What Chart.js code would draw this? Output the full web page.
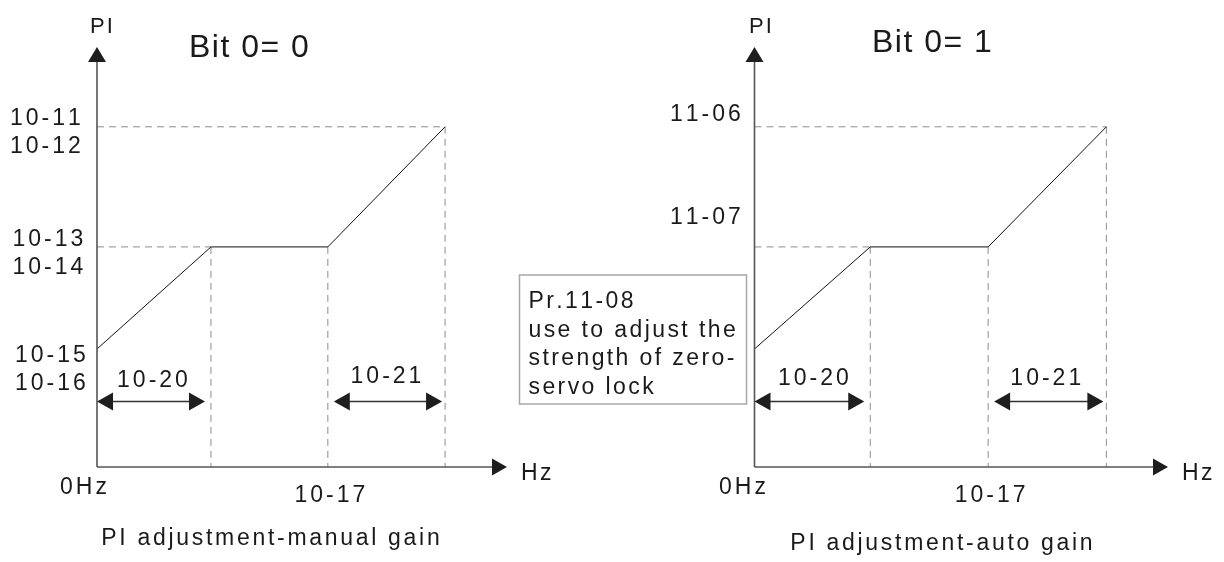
<!DOCTYPE html>
<html>
<head>
<meta charset="utf-8">
<script src="https://cdn.jsdelivr.net/npm/chart.js@4.4.0/dist/chart.umd.min.js"></script>
<style>
  html, body { margin: 0; padding: 0; background: #ffffff; }
  #wrap { position: relative; width: 1224px; height: 562px; overflow: hidden; }
  #wrap canvas { position: absolute; left: 0; top: 0; }
</style>
</head>
<body>
<div id="wrap">
  <canvas id="manualGain" width="1224" height="562"></canvas>
  <canvas id="autoGain" width="1224" height="562"></canvas>
</div>
<script>
// ---- data: frequency breakpoints (% of axis) and PI levels (% of axis) ----
const freqManual = [0, 27.8, 56.3, 84.9];
const piManual   = [28.1, 52.4, 52.4, 81.0];
const freqAuto   = [0, 28.0, 56.5, 85.1];
const piAuto     = [28.1, 52.4, 52.4, 81.0];

// tick-style labels for the PI levels (start, plateau, top)
const levelLabelsManual = [['10-15', '10-16'], ['10-13', '10-14'], ['10-11', '10-12']];
const levelLabelsAuto   = [null, ['11-07'], ['11-06']];
const zeroLabel   = '0Hz';
const freqLabel   = '10-17';
const spanLabels  = ['10-20', '10-21'];
const axisNames   = ['PI', 'Hz'];
const titles      = ['Bit 0= 0', 'Bit 0= 1'];
const captions    = ['PI adjustment-manual gain', 'PI adjustment-auto gain'];
const noteLines   = ['Pr.11-08', 'use to adjust the', 'strength of zero-', 'servo lock'];

const FONT = "'Liberation Sans', Arial, Helvetica, sans-serif";
const INK = '#1a1a1a';

// draw text with extra letter spacing
function spaced(ctx, text, x, y, gap, align) {
  const ws = [];
  let w = 0;
  for (const ch of text) { const m = ctx.measureText(ch).width; ws.push(m); w += m; }
  w += gap * (ws.length - 1);
  let cx = align === 'right' ? x - w : align === 'center' ? x - w / 2 : x;
  let i = 0;
  for (const ch of text) { ctx.fillText(ch, cx, y); cx += ws[i++] + gap; }
}

function arrowHead(ctx, tx, ty, dir, len, half) {
  ctx.beginPath();
  if (dir === 'up')    { ctx.moveTo(tx, ty); ctx.lineTo(tx - half, ty + len); ctx.lineTo(tx + half, ty + len); }
  if (dir === 'right') { ctx.moveTo(tx, ty); ctx.lineTo(tx - len, ty - half); ctx.lineTo(tx - len, ty + half); }
  if (dir === 'left')  { ctx.moveTo(tx, ty); ctx.lineTo(tx + len, ty - half); ctx.lineTo(tx + len, ty + half); }
  ctx.closePath();
  ctx.fill();
}

function dashed(xs, ys) {
  return {
    data: xs.map((x, i) => ({ x: x, y: ys[i] })),
    borderColor: '#8c8c8c', borderWidth: 1, borderDash: [7, 5],
    pointRadius: 0, fill: false, tension: 0, clip: false, order: 2
  };
}

function buildDatasets(freq, pi) {
  return [
    {
      data: freq.map((x, i) => ({ x: x, y: pi[i] })),
      borderColor: '#111111', borderWidth: 1, pointRadius: 0,
      fill: false, tension: 0, clip: false, order: 1
    },
    dashed([0, freq[3]], [pi[3], pi[3]]),
    dashed([freq[3], freq[3]], [pi[3], 0]),
    dashed([0, freq[1]], [pi[1], pi[1]]),
    dashed([freq[1], freq[1]], [pi[1], 0]),
    dashed([freq[2], freq[2]], [pi[2], 0])
  ];
}

// decoration plugin: axes with arrowheads, span arrows, labels
function diagramPlugin(freq, pi, levelLabels, look) {
  return {
    id: 'diagram',
    afterDatasetsDraw(chart) {
      const ctx = chart.ctx;
      const xs = chart.scales.x, ys = chart.scales.y;
      const L = xs.getPixelForValue(0), R = xs.getPixelForValue(100);
      const B = ys.getPixelForValue(0), T = ys.getPixelForValue(100);
      ctx.save();

      // axes
      ctx.strokeStyle = '#555555';
      ctx.lineWidth = 1.6;
      ctx.beginPath();
      ctx.moveTo(L, B); ctx.lineTo(L, T + 12);
      ctx.moveTo(L, B); ctx.lineTo(R - 12, B);
      ctx.stroke();
      ctx.fillStyle = '#1e1e1e';
      arrowHead(ctx, L, T, 'up', 15, 9);
      arrowHead(ctx, R, B, 'right', 15, 8.5);

      // span arrows
      const ay = B - 65.5;
      const spans = [
        [xs.getPixelForValue(freq[0]), xs.getPixelForValue(freq[1]) - 6],
        [xs.getPixelForValue(freq[2]) + 6, xs.getPixelForValue(freq[3]) - 3]
      ];
      ctx.strokeStyle = '#333333';
      ctx.lineWidth = 1.5;
      spans.forEach(([a, b]) => {
        ctx.beginPath(); ctx.moveTo(a + 10, ay); ctx.lineTo(b - 10, ay); ctx.stroke();
        arrowHead(ctx, a, ay, 'left', 16, 9);
        arrowHead(ctx, b, ay, 'right', 16, 9);
      });

      ctx.fillStyle = INK;
      ctx.textBaseline = 'alphabetic';

      // span labels
      ctx.font = '23px ' + FONT;
      spans.forEach(([a, b], i) => {
        spaced(ctx, spanLabels[i], (a + b) / 2 + look.spanDx[i], ay + look.spanDy[i], 3, 'center');
      });

      // level labels
      const levels = [pi[0], pi[1], pi[3]];
      levels.forEach((v, i) => {
        const lab = levelLabels[i];
        if (!lab) return;
        const py = ys.getPixelForValue(v) + look.levelDy[i];
        lab.forEach((t, k) => {
          spaced(ctx, t, L + look.levelDx[i], py + k * 28.5, 3, 'left');
        });
      });

      // axis labels
      spaced(ctx, zeroLabel, L + look.zeroDx, B + 27, 3, 'left');
      spaced(ctx, freqLabel, xs.getPixelForValue(freq[2]) + look.freqDx, B + 35, 3, 'center');
      spaced(ctx, axisNames[1], R + 14, B + 13, 2.5, 'left');
      ctx.font = '22px ' + FONT;
      spaced(ctx, axisNames[0], L + look.piDx, 33, 2, 'left');

      // title and caption
      ctx.font = '32px ' + FONT;
      spaced(ctx, look.title, L + look.titleDx, look.titleY, 1.5, 'left');
      ctx.font = '23px ' + FONT;
      spaced(ctx, look.caption, L + look.captionDx, look.captionY, 2.7, 'center');

      // note box
      if (look.note) {
        const n = look.note;
        ctx.strokeStyle = '#a8a8a8';
        ctx.lineWidth = 1.5;
        ctx.strokeRect(L + n.x0, n.y0, n.w, n.h);
        ctx.fillStyle = INK;
        ctx.font = '23px ' + FONT;
        noteLines.forEach((t, k) => {
          spaced(ctx, t, L + n.x0 + 9, n.y0 + 33 + k * 28.7, 2.4, 'left');
        });
      }
      ctx.restore();
    }
  };
}

function makeChart(id, freq, pi, levelLabels, pad, look) {
  return new Chart(document.getElementById(id), {
    type: 'line',
    data: { datasets: buildDatasets(freq, pi) },
    options: {
      responsive: false,
      animation: false,
      events: [],
      layout: { padding: pad },
      plugins: { legend: { display: false }, tooltip: { enabled: false }, title: { display: false } },
      scales: {
        x: { type: 'linear', min: 0, max: 100, display: false },
        y: { type: 'linear', min: 0, max: 100, display: false }
      }
    },
    plugins: [diagramPlugin(freq, pi, levelLabels, look)]
  });
}

makeChart('manualGain', freqManual, piManual, levelLabelsManual,
  { left: 97, right: 1224 - 507, top: 47, bottom: 562 - 467 },
  {
    title: titles[0], titleDx: 92, titleY: 57,
    caption: captions[0], captionDx: 173.5, captionY: 545,
    levelDx: [-82, -84.5, -87], levelDy: [13, -1, -2],
    spanDx: [1.5, -2], spanDy: [-15, -19],
    zeroDx: -37, freqDx: 2, piDx: -7, note: null
  });

makeChart('autoGain', freqAuto, piAuto, levelLabelsAuto,
  { left: 754.5, right: 1224 - 1168, top: 47, bottom: 562 - 467 },
  {
    title: titles[1], titleDx: 117.5, titleY: 52,
    caption: captions[1], captionDx: 187, captionY: 550,
    levelDx: [0, -84.5, -84.5], levelDy: [0, -23, -6],
    spanDx: [4, -3], spanDy: [-17, -17],
    zeroDx: -35.5, freqDx: 2, piDx: -5.5,
    note: { x0: -235, y0: 275, w: 227, h: 129 }
  });
</script>
</body>
</html>
